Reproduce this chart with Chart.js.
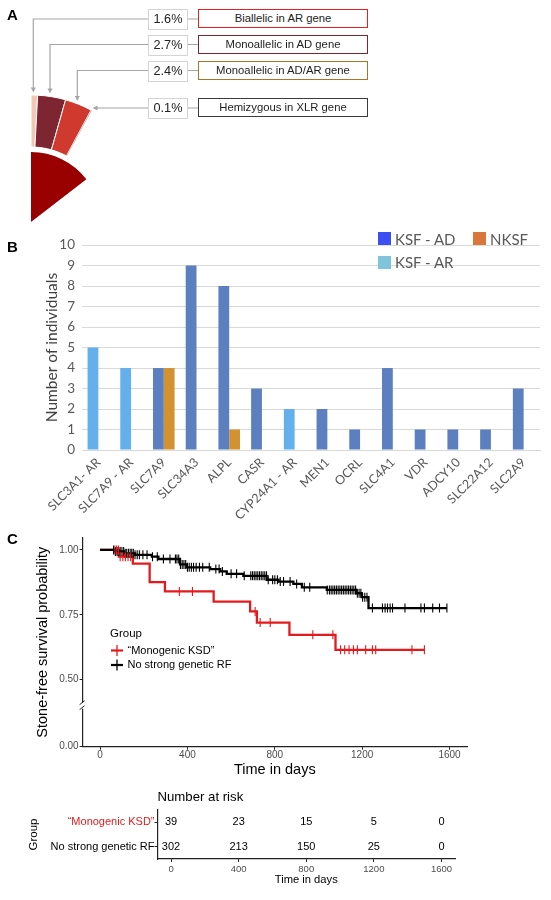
<!DOCTYPE html>
<html>
<head>
<meta charset="utf-8">
<script src="https://cdn.jsdelivr.net/npm/chart.js@4.4.1/dist/chart.umd.min.js"></script>
<style>
  body { margin: 0; background: #fff; }
  #page { position: relative; width: 551px; height: 900px; overflow: hidden; font-family: "Liberation Sans", Arial, sans-serif; }
  .box { position: absolute; }
  .tag { position: absolute; left: 7px; font-weight: bold; font-size: 15px; color: #000; }
  .pct { position: absolute; left: 148px; width: 38px; height: 19px; border: 1px solid #d4d4d4; font-size: 12.7px; line-height: 19px; text-align: center; color: #222; background: #fff; }
  .cat { position: absolute; left: 198px; width: 168px; height: 17px; border: 1.5px solid; font-size: 11.3px; line-height: 17px; text-align: center; color: #222; background: #fff; }
  .leg { position: absolute; font-family: Lato, "Open Sans", sans-serif; font-size: 15px; color: #595959; line-height: 18px; white-space: nowrap; }
  .sw { position: absolute; width: 13px; height: 13px; }
</style>
</head>
<body>
<div id="page">
  <!-- panel A -->
  <div class="box" style="left:-96px;top:95px;width:254px;height:254px;"><canvas id="pieChart"></canvas></div>
  <svg class="box" style="left:0;top:0" width="551" height="230">
    <g stroke="#a6a6a6" stroke-width="1.2" fill="none">
      <path d="M148 19 H33.3 V88"/>
      <path d="M148 44.5 H50 V89"/>
      <path d="M148 70.5 H77.3 V96.5"/>
      <path d="M148 108 H97"/>
      <path d="M187 19 H198 M187 44.5 H198 M187 70.5 H198 M187 108 H198"/>
    </g>
    <g fill="#a6a6a6">
      <path d="M30.8 87.5 L35.8 87.5 L33.3 92.5 Z"/>
      <path d="M47.5 88.5 L52.5 88.5 L50 93.5 Z"/>
      <path d="M74.8 96 L79.8 96 L77.3 101 Z"/>
      <path d="M97.5 105.5 L97.5 110.5 L92.5 108 Z"/>
    </g>
  </svg>
  <div class="tag" style="top:6px">A</div>
  <div class="pct" style="top:9px">1.6%</div>
  <div class="pct" style="top:35px">2.7%</div>
  <div class="pct" style="top:61px">2.4%</div>
  <div class="pct" style="top:98px">0.1%</div>
  <div class="cat" style="top:9px;border-color:#e8201c">Biallelic in AR gene</div>
  <div class="cat" style="top:35px;border-color:#7d2531">Monoallelic in AD gene</div>
  <div class="cat" style="top:61px;border-color:#a8752a">Monoallelic in AD/AR gene</div>
  <div class="cat" style="top:98px;border-color:#3a3a3a">Hemizygous in XLR gene</div>

  <!-- panel B -->
  <div class="box" style="left:0;top:230px;width:551px;height:290px;"><canvas id="barChart"></canvas></div>
  <div class="tag" style="top:238px">B</div>
  <div id="barLegend"></div>

  <!-- panel C -->
  <div class="box" style="left:0;top:530px;width:551px;height:250px;"><canvas id="kmChart"></canvas></div>
  <div class="tag" style="top:530px">C</div>
  <div class="box" style="left:0;top:782px;width:551px;height:106px;"><canvas id="riskChart"></canvas></div>
</div>

<script>
// ---- panel A: share of each genetic finding (degrees of the drawn pie)
const ringLabels = ['Biallelic in AR gene', 'Monoallelic in AD gene', 'Monoallelic in AD/AR gene', 'Hemizygous in XLR gene'];
const ringShares = [3.0, 12.8, 12.4, 0.4];
const ringColors = ['#f2c8b4', '#7d2531', '#d0392d', '#b8b8b8'];
const coreShare = 52.3;

// ---- panel B: individuals per gene
const genes = ['SLC3A1- AR', 'SLC7A9 - AR', 'SLC7A9', 'SLC34A3', 'ALPL', 'CASR', 'CYP24A1 - AR',
               'MEN1', 'OCRL', 'SLC4A1', 'VDR', 'ADCY10', 'SLC22A12', 'SLC2A9'];
const ksfAD = [null, null, 4, 9, 8, 3, null, 2, 1, 4, 1, 1, 1, 3];
const ksfAR = [5, 4, null, null, null, null, 2, null, null, null, null, null, null, null];
const nksf  = [null, null, 4, null, 1, null, null, null, null, null, null, null, null, null];

// ---- panel C: Kaplan-Meier steps (days, survival) and censoring times
const monoTimes = [0, 86, 150, 227, 297, 520, 687, 718, 867, 1078, 1485];
const monoSurv  = [1, 0.974, 0.947, 0.876, 0.840, 0.801, 0.763, 0.720, 0.673, 0.615, 0.615];
const monoCensor = [68, 76, 84, 92, 104, 116, 128, 140, 363, 423, 710, 733, 779, 974, 1066,
                    1101, 1120, 1140, 1160, 1178, 1216, 1247, 1262, 1428, 1485];
const noneTimes = [0, 69, 110, 160, 237, 267, 366, 397, 504, 550, 580, 656, 763, 817, 885, 924, 1038, 1172, 1198, 1229, 1588];
const noneSurv  = [1, 0.994, 0.987, 0.981, 0.974, 0.965, 0.944, 0.933, 0.926, 0.917, 0.908, 0.900, 0.885, 0.878, 0.869, 0.856, 0.846, 0.833, 0.818, 0.776, 0.776];
const noneCensor = [62, 70, 78, 85, 92, 100, 108, 115, 122, 130, 138, 145, 152, 160, 170, 180, 196, 215, 240, 262,
                    290, 320, 345, 352, 360, 368, 376, 384, 392, 400, 408, 418, 428, 440, 455, 470, 500, 530, 545,
                    560, 600, 625, 660, 690, 698, 706, 714, 722, 730, 738, 746, 754, 762, 770, 790, 800, 812, 825,
                    840, 870, 900, 935, 960, 1040, 1050, 1058, 1066, 1074, 1082, 1090, 1098, 1106, 1114, 1122,
                    1130, 1138, 1146, 1154, 1162, 1170, 1178, 1186, 1194, 1202, 1212, 1222, 1247, 1293, 1305,
                    1316, 1328, 1339, 1396, 1469, 1485, 1523, 1554, 1588];
const groups = ['\u201CMonogenic KSD\u201D', 'No strong genetic RF'];
const timeTicks = [0, 400, 800, 1200, 1600];
const survTicks = [0.5, 0.75, 1.0];

// ---- number at risk table
const riskMono = [39, 23, 15, 5, 0];
const riskNone = [302, 213, 150, 25, 0];

const RED = '#e41a1c';
const sans = '"Liberation Sans", Arial, sans-serif';
Chart.defaults.animation = false;
Chart.defaults.events = [];
Chart.defaults.plugins.tooltip.enabled = false;
Chart.defaults.font.family = sans;

// ------------------------------------------------------------ A
const clear = 'rgba(0,0,0,0)';
const ringSum = ringShares.reduce((a, b) => a + b, 0);
new Chart(document.getElementById('pieChart'), {
    type: 'pie',
    data: {
        labels: [...ringLabels, ''],
        datasets: [
            { data: [...ringShares, 360 - ringSum], backgroundColor: [...ringColors, clear],
              borderColor: '#fff', borderWidth: [1, 1, 1, 0, 0], weight: 52 },
            { data: [360], backgroundColor: [clear], borderWidth: 0, weight: 5 },
            { data: [coreShare, 360 - coreShare], backgroundColor: ['#990000', clear], borderWidth: 0, weight: 70 }
        ]
    },
    options: {
        responsive: true,
        maintainAspectRatio: false,
        radius: 127,
        plugins: { legend: { display: false } }
    }
});

// ------------------------------------------------------------ B
const barLegend = [
    { text: 'KSF - AD', color: '#3d4ef5', x: 378, y: 232 },
    { text: 'NKSF', color: '#d9783a', x: 473, y: 232 },
    { text: 'KSF - AR', color: '#80c4dc', x: 378, y: 255.5 }
];
document.getElementById('barLegend').innerHTML = barLegend.map(l =>
    '<div class="sw" style="left:' + l.x + 'px;top:' + l.y + 'px;background:' + l.color + '"></div>' +
    '<div class="leg" style="left:' + (l.x + 17) + 'px;top:' + (l.y - 2.5) + 'px">' + l.text + '</div>'
).join('');

const lato = 'Lato, "Open Sans", sans-serif';
new Chart(document.getElementById('barChart'), {
    type: 'bar',
    data: {
        labels: genes,
        datasets: [
            { label: 'KSF - AD', data: ksfAD, backgroundColor: '#5b7fbf', stack: 'ksf' },
            { label: 'KSF - AR', data: ksfAR, backgroundColor: '#63b0ec', stack: 'ksf' },
            { label: 'NKSF', data: nksf, backgroundColor: '#d4912f', stack: 'nksf' }
        ]
    },
    options: {
        responsive: true,
        maintainAspectRatio: false,
        categoryPercentage: 0.66,
        barPercentage: 1.0,
        layout: { padding: { top: 15, right: 11, left: 0, bottom: 0 } },
        plugins: { legend: { display: false } },
        scales: {
            x: {
                stacked: true,
                grid: { display: false, drawTicks: false },
                border: { display: true, color: '#d9d9d9' },
                ticks: { autoSkip: false, minRotation: 45, maxRotation: 45, padding: 5,
                         color: '#595959', font: { family: lato, size: 12.5 } },
                afterFit: s => { s.height = 70; }
            },
            y: {
                stacked: true,
                min: 0,
                max: 10,
                grid: { color: '#d9d9d9', drawTicks: false },
                border: { display: false },
                ticks: { stepSize: 1, padding: 7, color: '#595959', font: { family: lato, size: 13.5 } },
                title: { display: true, text: 'Number of individuals', color: '#404040',
                         font: { family: lato, size: 15.5 }, padding: { top: 43, bottom: 0 } },
                afterFit: s => { s.width = 82; }
            }
        }
    }
});

// ------------------------------------------------------------ C
const yFloor = 0.242;   // where the broken axis shows 0.00
const yBreak = 0.40;

function levelAt(times, surv, t) {
    let s = surv[0];
    for (let i = 0; i < times.length; i++) if (times[i] <= t) s = surv[i];
    return s;
}
const steps = (times, surv) => times.map((t, i) => ({ x: t, y: surv[i] }));
const marks = (cens, times, surv) => cens.map(t => ({ x: t, y: levelAt(times, surv, t) }));

const kmLegend = {
    id: 'kmLegend',
    afterDraw(chart) {
        const ctx = chart.ctx;
        ctx.save();
        ctx.font = '11.5px ' + sans;
        ctx.fillStyle = '#000';
        ctx.textBaseline = 'middle';
        ctx.fillText('Group', 110, 103.5);
        ctx.font = '11px ' + sans;
        [[groups[0], RED, 120.5], [groups[1], '#000', 135]].forEach(([txt, col, y]) => {
            ctx.strokeStyle = col;
            ctx.lineWidth = 2.2;
            ctx.beginPath(); ctx.moveTo(111, y); ctx.lineTo(123, y); ctx.stroke();
            ctx.lineWidth = 1.3;
            ctx.beginPath(); ctx.moveTo(117, y - 5.5); ctx.lineTo(117, y + 5.5); ctx.stroke();
            ctx.fillText(txt, 127.5, y);
        });
        // axis break on y
        const ax = chart.scales.y.right;
        const by = chart.scales.y.getPixelForValue(yBreak);
        ctx.fillStyle = '#fff';
        ctx.fillRect(ax - 3, by - 3, 6, 6);
        ctx.strokeStyle = '#222';
        ctx.lineWidth = 1;
        ctx.beginPath();
        ctx.moveTo(ax - 3, by - 1); ctx.lineTo(ax + 2, by - 5);
        ctx.moveTo(ax - 3, by + 4); ctx.lineTo(ax + 2, by);
        ctx.stroke();
        ctx.restore();
    }
};

new Chart(document.getElementById('kmChart'), {
    type: 'line',
    data: {
        datasets: [
            { data: marks(monoCensor, monoTimes, monoSurv), showLine: false, pointStyle: 'line', pointRotation: 90,
              pointRadius: 4.5, pointBorderWidth: 1.1, borderColor: RED },
            { data: marks(noneCensor, noneTimes, noneSurv), showLine: false, pointStyle: 'line', pointRotation: 90,
              pointRadius: 4.5, pointBorderWidth: 1.1, borderColor: '#000' },
            { data: steps(noneTimes, noneSurv), stepped: true, borderColor: '#000', borderWidth: 2.3, pointRadius: 0 },
            { data: steps(monoTimes, monoSurv), stepped: true, borderColor: RED, borderWidth: 2.3, pointRadius: 0 }
        ]
    },
    options: {
        responsive: true,
        maintainAspectRatio: false,
        layout: { padding: { top: 7.7, right: 84, left: 0, bottom: 0 } },
        plugins: { legend: { display: false } },
        scales: {
            x: {
                type: 'linear',
                min: -80,
                max: 1680,
                afterBuildTicks: s => { s.ticks = timeTicks.map(v => ({ value: v })); },
                grid: { drawOnChartArea: false, tickLength: 3, tickColor: '#222', tickWidth: 1 },
                border: { color: '#222', width: 1.2 },
                ticks: { padding: 0, color: '#4d4d4d', font: { size: 10 }, callback: v => String(v) },
                title: { display: true, text: 'Time in days', color: '#000', font: { size: 14.5 }, padding: { top: 0, bottom: 1.3 } },
                afterFit: s => { s.height = 33.3; }
            },
            y: {
                type: 'linear',
                min: yFloor,
                max: 1.047,
                afterBuildTicks: s => { s.ticks = [yFloor, ...survTicks].map(v => ({ value: v })); },
                grid: { drawOnChartArea: false, tickLength: 3, tickColor: '#222', tickWidth: 1 },
                border: { color: '#222', width: 1.2 },
                ticks: { padding: 1, color: '#4d4d4d', font: { size: 10 },
                         callback: v => (v === yFloor ? 0 : v).toFixed(2) },
                title: { display: true, text: 'Stone-free survival probability', color: '#000',
                         font: { size: 14.5 }, padding: { top: 34, bottom: 0 } },
                afterFit: s => { s.width = 82.6; }
            }
        }
    },
    plugins: [kmLegend]
});

// ------------------------------------------------------------ risk table
const riskText = {
    id: 'riskText',
    afterDatasetsDraw(chart) {
        const ctx = chart.ctx;
        ctx.save();
        ctx.fillStyle = '#000';
        ctx.textBaseline = 'middle';
        ctx.font = '13.2px ' + sans;
        ctx.fillText('Number at risk', chart.chartArea.left, 15);
        ctx.font = '11px ' + sans;
        ctx.textAlign = 'center';
        chart.data.datasets.forEach((ds, i) => {
            chart.getDatasetMeta(i).data.forEach((el, j) => ctx.fillText(String(ds.counts[j]), el.x, el.y));
        });
        ctx.restore();
    }
};

new Chart(document.getElementById('riskChart'), {
    type: 'line',
    data: {
        datasets: [
            { data: timeTicks.map(t => ({ x: t, y: groups[0] })), counts: riskMono, showLine: false, pointRadius: 0 },
            { data: timeTicks.map(t => ({ x: t, y: groups[1] })), counts: riskNone, showLine: false, pointRadius: 0 }
        ]
    },
    options: {
        responsive: true,
        maintainAspectRatio: false,
        layout: { padding: { top: 28, right: 96, left: 0, bottom: 0 } },
        plugins: { legend: { display: false } },
        scales: {
            x: {
                type: 'linear',
                min: -80,
                max: 1680,
                afterBuildTicks: s => { s.ticks = timeTicks.map(v => ({ value: v })); },
                grid: { drawOnChartArea: false, tickLength: 3, tickColor: '#222' },
                border: { color: '#222', width: 1.2 },
                ticks: { padding: 1.3, color: '#4d4d4d', font: { size: 9.5 }, callback: v => String(v) },
                title: { display: true, text: 'Time in days', color: '#000', font: { size: 11.2 }, padding: { top: 0, bottom: 1 } },
                afterFit: s => { s.height = 29; }
            },
            y: {
                type: 'category',
                labels: groups,
                offset: true,
                grid: { drawOnChartArea: false, tickLength: 3, tickColor: '#222', offset: false },
                border: { color: '#222', width: 1.2 },
                ticks: { padding: 0, font: { size: 11 }, color: c => (c.index === 0 ? RED : '#000') },
                title: { display: true, text: 'Group', color: '#000', font: { size: 11.5 }, padding: { top: 27, bottom: 0 } },
                afterFit: s => { s.width = 157.5; }
            }
        }
    },
    plugins: [riskText]
});
</script>
</body>
</html>
